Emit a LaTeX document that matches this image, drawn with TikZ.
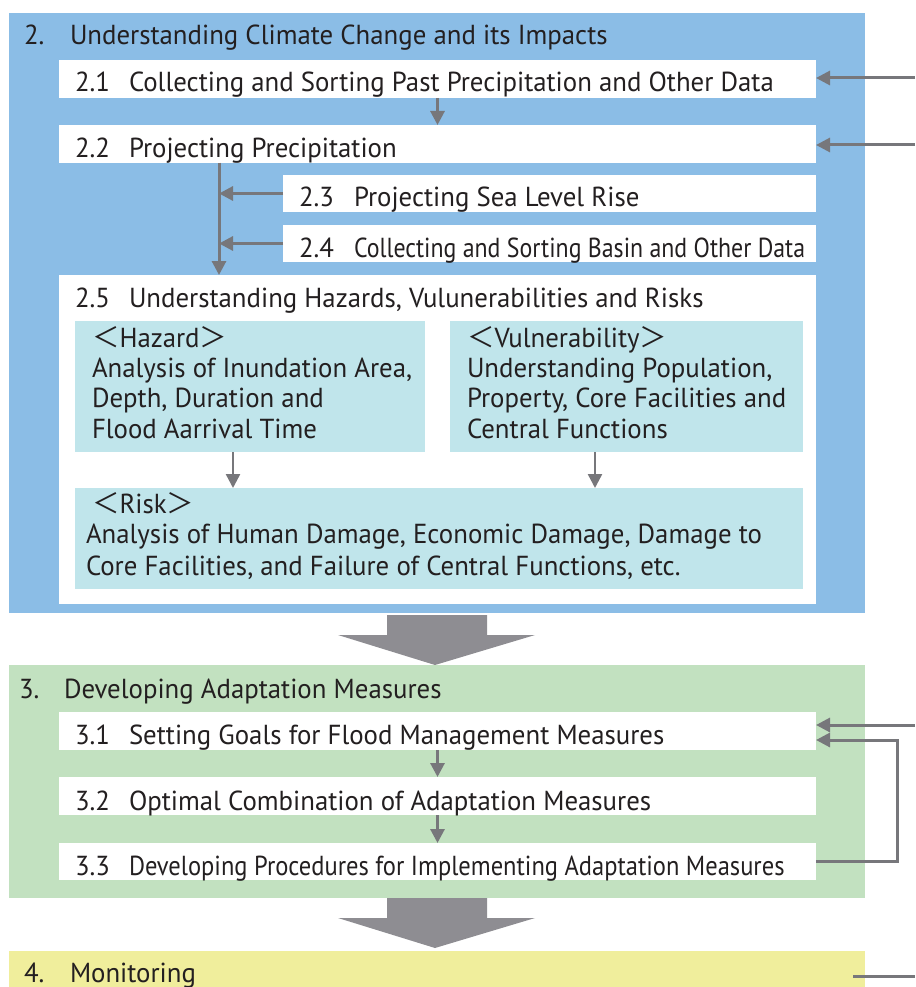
\documentclass[tikz,border=0pt]{standalone}
\usepackage{fontspec}
\setmainfont{PT Sans}[FakeStretch=0.975]
\newfontfamily\cjk{Noto Sans CJK JP}
\usetikzlibrary{arrows.meta}

\definecolor{secblue}{HTML}{8BBDE6}
\definecolor{secgreen}{HTML}{C2E1C0}
\definecolor{secyellow}{HTML}{F0EE9C}
\definecolor{subcyan}{HTML}{C0E5EB}
\definecolor{arrowgray}{HTML}{77777B}
\definecolor{biggray}{HTML}{8E8D92}
\definecolor{ink}{HTML}{231F20}

\newcommand{\lbr}{{\cjk ＜}}
\newcommand{\rbr}{{\cjk ＞}}

\tikzset{
  every node/.style={inner sep=0pt, outer sep=0pt},
  panel/.style={anchor=north west, draw=none, fill=#1},
  txt/.style={anchor=base west, text=ink, font=\fontsize{27.5}{33}\selectfont},
  conn/.style={draw=arrowgray, line width=3pt, -{Triangle[width=14pt,length=14pt]}},
  plainline/.style={draw=arrowgray, line width=3pt},
  bigarrow/.style={fill=biggray},
}

\begin{document}
\begin{tikzpicture}[x=1pt, y=-1pt]
  \useasboundingbox (0,0) rectangle (915,987);

  % ---------- section 2 ----------
  \node[panel=secblue, minimum width=856pt, minimum height=600pt] (sec2) at (9,13) {};
  \node[txt] (n2) at (24,45) {2.};
  \node[txt] (l2) at (70,45) {Understanding Climate Change and its Impacts};

  \node[panel=white, minimum width=757pt, minimum height=38pt] (b21) at (59,60) {};
  \node[panel=white, minimum width=757pt, minimum height=38pt] (b22) at (59,125) {};
  \node[panel=white, minimum width=533pt, minimum height=37pt] (b23) at (283,175) {};
  \node[panel=white, minimum width=533pt, minimum height=37pt] (b24) at (283,225) {};
  \node[panel=white, minimum width=757pt, minimum height=329pt] (b25) at (59,275) {};

  % item labels, clipped to their boxes
  \begin{scope}
    \clip (b21.south west) rectangle (b21.north east);
    \node[txt] (n21) at (75,92) {2.1};
    \node[txt] (l21) at (129,92) {Collecting and Sorting Past Precipitation and Other Data};
  \end{scope}
  \begin{scope}
    \clip (b22.south west) rectangle (b22.north east);
    \node[txt] (n22) at (75,158) {2.2};
    \node[txt] (l22) at (129,158) {Projecting Precipitation};
  \end{scope}
  \begin{scope}
    \clip (b23.south west) rectangle (b23.north east);
    \node[txt] (n23) at (299,207) {2.3};
    \node[txt] (l23) at (354,207) {Projecting Sea Level Rise};
  \end{scope}
  \begin{scope}
    \clip (b24.south west) rectangle (b24.north east);
    \node[txt] (n24) at (299,257) {2.4};
    \node[txt] (l24) at (354,257) {\scalebox{0.89}[1]{Collecting and Sorting Basin and Other Data}};
  \end{scope}
  \node[txt] (n25) at (75,307) {2.5};
  \node[txt] (l25) at (129,307) {Understanding Hazards, Vulunerabilities and Risks};

  % hazard / vulnerability / risk
  \node[panel=subcyan, minimum width=350pt, minimum height=131pt] (haz) at (75,321) {};
  \node[panel=subcyan, minimum width=353pt, minimum height=131pt] (vul) at (450,321) {};
  \node[panel=subcyan, minimum width=728pt, minimum height=101pt] (risk) at (75,488) {};

  \node[txt] (hz1) at (92,347) {\lbr Hazard\rbr};
  \node[txt] (hz2) at (92,377) {Analysis of Inundation Area,};
  \node[txt] (hz3) at (92,407) {Depth, Duration and};
  \node[txt] (hz4) at (92,438) {Flood Aarrival Time};

  \node[txt] (vu1) at (467,347) {\lbr Vulnerability\rbr};
  \node[txt] (vu2) at (467,377) {Understanding Population,};
  \node[txt] (vu3) at (467,407) {Property, Core Facilities and};
  \node[txt] (vu4) at (467,438) {Central Functions};

  \node[txt] (rk1) at (92,513) {\lbr Risk\rbr};
  \node[txt] (rk2) at (86,543) {Analysis of Human Damage, Economic Damage, Damage to};
  \node[txt] (rk3) at (86,575) {Core Facilities, and Failure of Central Functions, etc.};

  % connectors inside section 2
  \coordinate (trunk) at (219,0);
  \coordinate (hazx) at (233,0);
  \coordinate (vulx) at (595,0);
  \coordinate (in1) at (915,78);
  \coordinate (in2) at (915,145);

  \draw[conn] (b21.south) -- (b22.north);
  \draw[plainline] (b22.south -| trunk) -- (b23.west -| trunk);
  \draw[conn] (b22.south -| trunk) -- (b25.north -| trunk);
  \draw[conn] (b23.west) -- (b23.west -| trunk);
  \draw[conn] (b24.west) -- (b24.west -| trunk);
  \draw[conn, line width=2.5pt] (haz.south -| hazx) -- (risk.north -| hazx);
  \draw[conn, line width=2.5pt] (vul.south -| vulx) -- (risk.north -| vulx);
  \draw[conn] (in1) -- (in1 -| b21.east);
  \draw[conn] (in2) -- (in2 -| b22.east);

  % ---------- transition arrows ----------
  \fill[bigarrow, shift={(436,615)}]
    (-49,0) -- (51,0) -- (51,20) -- (99,20) -- (-1,50) -- (-98,20) -- (-49,20) -- cycle;
  \fill[bigarrow, shift={(436,898)}]
    (-49,0) -- (51,0) -- (51,20) -- (99,20) -- (-1,50) -- (-98,20) -- (-49,20) -- cycle;

  % ---------- section 3 ----------
  \node[panel=secgreen, minimum width=856pt, minimum height=233pt] (sec3) at (9,665) {};
  \node[txt] (n3) at (19,698) {3.};
  \node[txt] (l3) at (64,698) {Developing Adaptation Measures};

  \node[panel=white, minimum width=757pt, minimum height=38pt] (b31) at (59,712) {};
  \node[panel=white, minimum width=757pt, minimum height=38pt] (b32) at (59,777) {};
  \node[panel=white, minimum width=757pt, minimum height=37pt] (b33) at (59,843) {};

  \begin{scope}
    \clip (b31.south west) rectangle (b31.north east);
    \node[txt] (n31) at (75,744) {3.1};
    \node[txt] (l31) at (129,744) {Setting Goals for Flood Management Measures};
  \end{scope}
  \begin{scope}
    \clip (b32.south west) rectangle (b32.north east);
    \node[txt] (n32) at (75,810) {3.2};
    \node[txt] (l32) at (129,810) {Optimal Combination of Adaptation Measures};
  \end{scope}
  \begin{scope}
    \clip (b33.south west) rectangle (b33.north east);
    \node[txt] (n33) at (75,875) {3.3};
    \node[txt] (l33) at (129,875) {\scalebox{0.914}[1]{Developing Procedures for Implementing Adaptation Measures}};
  \end{scope}

  \coordinate (in3) at (915,725);
  \coordinate (loop) at (897,740);
  \draw[conn] (b31.south) -- (b32.north);
  \draw[conn] (b32.south) -- (b33.north);
  \draw[conn] (in3) -- (in3 -| b31.east);
  \draw[conn] (b33.east) -| (loop) -- (loop -| b31.east);

  % ---------- section 4 ----------
  \node[panel=secyellow, minimum width=856pt, minimum height=36pt] (sec4) at (9,951) {};
  \node[txt] (n4) at (24,982) {4.};
  \node[txt] (l4) at (70,982) {Monitoring};
  \coordinate (monout) at (853,976);
  \coordinate (out4) at (915,976);
  \draw[plainline] (monout) -- (out4);
\end{tikzpicture}
\end{document}
